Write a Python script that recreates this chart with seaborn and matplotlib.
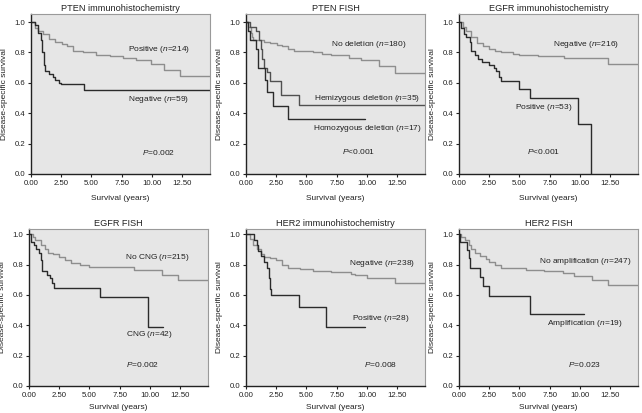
import matplotlib
matplotlib.use("Agg")
import matplotlib.pyplot as plt
import seaborn as sns

# ---- data (step times in years, survival after each step) ----
pten_ihc_pos_t = [0, 0.3, 0.6, 1.0, 1.5, 2.0, 2.6, 3.0, 3.5, 4.3, 5.4, 6.5, 7.6, 8.7, 9.9, 11.0, 12.3, 14.8]
pten_ihc_pos_s = [1.0, 0.96, 0.94, 0.92, 0.89, 0.87, 0.855, 0.84, 0.81, 0.80, 0.785, 0.775, 0.765, 0.747, 0.725, 0.686, 0.648, 0.648]
pten_ihc_neg_t = [0, 0.3, 0.6, 0.85, 0.95, 1.05, 1.15, 1.5, 1.8, 2.0, 2.3, 2.5, 4.4, 14.8]
pten_ihc_neg_s = [1.0, 0.98, 0.93, 0.88, 0.80, 0.72, 0.68, 0.66, 0.64, 0.62, 0.60, 0.59, 0.556, 0.556]

pten_fish_nodel_t = [0, 0.2, 0.4, 0.5, 0.6, 1.5, 2.0, 2.6, 3.0, 3.5, 4.0, 5.5, 6.3, 7.0, 8.5, 9.5, 11.0, 12.3, 14.8]
pten_fish_nodel_s = [1.0, 0.97, 0.93, 0.90, 0.88, 0.87, 0.86, 0.85, 0.84, 0.82, 0.81, 0.80, 0.79, 0.78, 0.765, 0.75, 0.71, 0.667, 0.667]
pten_fish_hemi_t = [0, 0.3, 0.8, 1.1, 1.2, 1.3, 1.5, 1.7, 2.0, 2.9, 4.4, 14.8]
pten_fish_hemi_s = [1.0, 0.97, 0.94, 0.88, 0.82, 0.76, 0.70, 0.67, 0.615, 0.52, 0.457, 0.457]
pten_fish_homo_t = [0, 0.15, 0.35, 0.8, 1.0, 1.6, 1.75, 2.25, 3.5, 9.8]
pten_fish_homo_s = [1.0, 0.94, 0.88, 0.82, 0.70, 0.62, 0.54, 0.45, 0.36, 0.36]

egfr_ihc_neg_t = [0, 0.3, 0.6, 1.0, 1.5, 2.0, 2.5, 3.0, 3.5, 4.5, 5.0, 6.5, 8.7, 12.3, 14.8]
egfr_ihc_neg_s = [1.0, 0.97, 0.94, 0.90, 0.86, 0.84, 0.82, 0.81, 0.80, 0.79, 0.785, 0.775, 0.762, 0.725, 0.725]
egfr_ihc_pos_t = [0, 0.2, 0.4, 0.6, 0.9, 1.0, 1.3, 1.6, 1.9, 2.5, 2.9, 3.1, 3.3, 3.5, 5.0, 5.9, 9.8, 10.9]
egfr_ihc_pos_s = [1.0, 0.96, 0.92, 0.90, 0.87, 0.81, 0.78, 0.76, 0.74, 0.72, 0.70, 0.68, 0.64, 0.61, 0.56, 0.50, 0.33, 0.0]

egfr_fish_nocng_t = [0, 0.3, 0.5, 1.0, 1.3, 1.6, 2.0, 2.5, 3.0, 3.5, 4.2, 5.0, 8.7, 11.0, 12.3, 14.8]
egfr_fish_nocng_s = [1.0, 0.98, 0.96, 0.93, 0.90, 0.88, 0.87, 0.85, 0.83, 0.81, 0.80, 0.785, 0.765, 0.735, 0.70, 0.70]
egfr_fish_cng_t = [0, 0.2, 0.4, 0.6, 0.8, 1.0, 1.1, 1.5, 1.7, 1.9, 2.1, 5.9, 9.8, 11.1]
egfr_fish_cng_s = [1.0, 0.95, 0.93, 0.90, 0.88, 0.83, 0.76, 0.73, 0.71, 0.68, 0.645, 0.585, 0.39, 0.39]

her2_ihc_neg_t = [0, 0.3, 0.6, 0.9, 1.2, 1.5, 2.0, 2.5, 3.0, 3.5, 4.5, 5.5, 7.0, 8.7, 9.0, 10.0, 12.3, 14.8]
her2_ihc_neg_s = [1.0, 0.97, 0.93, 0.90, 0.87, 0.85, 0.845, 0.83, 0.80, 0.78, 0.77, 0.755, 0.75, 0.74, 0.73, 0.715, 0.68, 0.68]
her2_ihc_pos_t = [0, 0.7, 0.9, 1.0, 1.2, 1.5, 1.7, 1.9, 2.0, 2.1, 4.4, 6.6, 9.8]
her2_ihc_pos_s = [1.0, 0.96, 0.93, 0.89, 0.86, 0.82, 0.78, 0.71, 0.64, 0.60, 0.52, 0.39, 0.39]

her2_fish_noamp_t = [0, 0.2, 0.5, 0.8, 1.0, 1.3, 1.7, 2.2, 2.5, 3.0, 3.5, 4.3, 5.5, 7.0, 8.6, 9.5, 11.0, 12.3, 14.8]
her2_fish_noamp_s = [1.0, 0.98, 0.96, 0.93, 0.90, 0.88, 0.86, 0.84, 0.82, 0.80, 0.78, 0.775, 0.765, 0.755, 0.745, 0.725, 0.70, 0.665, 0.665]
her2_fish_amp_t = [0, 0.1, 0.7, 0.8, 0.9, 1.7, 2.0, 2.5, 5.9, 10.3]
her2_fish_amp_s = [1.0, 0.947, 0.895, 0.842, 0.78, 0.72, 0.66, 0.595, 0.476, 0.476]

titles = ["PTEN immunohistochemistry", "PTEN FISH", "EGFR immunohistochemistry",
          "EGFR FISH", "HER2 immunohistochemistry", "HER2 FISH"]
p_labels = ["$P$=0.002", "$P$<0.001", "$P$<0.001", "$P$=0.002", "$P$=0.008", "$P$=0.023"]
x_ticks = [0, 2.5, 5, 7.5, 10, 12.5]
x_ticklabels = ["0.00", "2.50", "5.00", "7.50", "10.00", "12.50"]
y_ticks = [0, 0.2, 0.4, 0.6, 0.8, 1.0]

GRAY = "#8e8e8e"
DARK = "#2b2b2b"
MID = "#505050"

# curves per panel: (times, survival, colour, label, label_x, label_y)
panels = [
    [(pten_ihc_pos_t, pten_ihc_pos_s, GRAY, "Positive ($n$=214)", 8.0, 0.82),
     (pten_ihc_neg_t, pten_ihc_neg_s, DARK, "Negative ($n$=59)", 8.0, 0.49)],
    [(pten_fish_nodel_t, pten_fish_nodel_s, GRAY, "No deletion ($n$=180)", 7.0, 0.855),
     (pten_fish_hemi_t, pten_fish_hemi_s, MID, "Hemizygous deletion ($n$=35)", 5.6, 0.50),
     (pten_fish_homo_t, pten_fish_homo_s, DARK, "Homozygous deletion ($n$=17)", 5.5, 0.30)],
    [(egfr_ihc_neg_t, egfr_ihc_neg_s, GRAY, "Negative ($n$=216)", 7.8, 0.853),
     (egfr_ihc_pos_t, egfr_ihc_pos_s, DARK, "Positive ($n$=53)", 4.6, 0.435)],
    [(egfr_fish_nocng_t, egfr_fish_nocng_s, GRAY, "No CNG ($n$=215)", 7.9, 0.844),
     (egfr_fish_cng_t, egfr_fish_cng_s, DARK, "CNG ($n$=42)", 8.0, 0.337)],
    [(her2_ihc_neg_t, her2_ihc_neg_s, GRAY, "Negative ($n$=238)", 8.5, 0.81),
     (her2_ihc_pos_t, her2_ihc_pos_s, DARK, "Positive ($n$=28)", 8.8, 0.447)],
    [(her2_fish_noamp_t, her2_fish_noamp_s, GRAY, "No amplification ($n$=247)", 6.6, 0.82),
     (her2_fish_amp_t, her2_fish_amp_s, DARK, "Amplification ($n$=19)", 7.3, 0.414)],
]
p_pos = [(9.2, 0.14), (7.9, 0.15), (5.6, 0.147), (8.0, 0.14), (9.75, 0.145), (9.0, 0.143)]

sns.set_theme(style="ticks")
plt.rcParams["font.family"] = ["Liberation Sans", "DejaVu Sans"]
plt.rcParams["mathtext.fontset"] = "custom"
plt.rcParams["mathtext.rm"] = "Liberation Sans"
plt.rcParams["mathtext.it"] = "Liberation Sans:italic"

W, H = 642, 413
fig = plt.figure(figsize=(W / 100, H / 100), dpi=100)
fig.patch.set_facecolor("white")

lefts = [31, 246, 459, 29, 246, 459]
tops = [14, 14, 14, 229, 229, 229]
bottoms = [174, 174, 174, 386, 386, 386]
ytops = [1.053, 1.053, 1.053, 1.035, 1.035, 1.035]
xlabel_pads = [6.0, 6.0, 6.0, 4.0, 4.0, 4.0]
width = 179

for i in range(6):
    ax = fig.add_axes([lefts[i] / W, 1 - bottoms[i] / H, width / W, (bottoms[i] - tops[i]) / H])
    ax.set_facecolor("#e6e6e6")
    for t, s, col, lab, lx, ly in panels[i]:
        sns.lineplot(x=t, y=s, drawstyle="steps-post", color=col, lw=1.0, ax=ax)
        ax.text(lx, ly, lab, fontsize=6.0, va="center", ha="left", color="#222222")
    px, py = p_pos[i]
    ax.text(px, py, p_labels[i], fontsize=6.0, va="center", ha="left", color="#222222")

    ax.set_xlim(0, 14.8)
    ax.set_ylim(0, ytops[i])
    ax.set_xticks(x_ticks)
    ax.set_xticklabels(x_ticklabels)
    ax.set_yticks(y_ticks)
    ax.set_yticklabels([f"{v:.1f}" for v in y_ticks])
    ax.tick_params(labelsize=5.6, length=2.5, width=0.8, pad=1.5, colors="#222222")
    ax.set_title(titles[i], fontsize=6.6, pad=2.5, color="#222222")
    ax.set_xlabel("Survival (years)", fontsize=6.0, labelpad=xlabel_pads[i], color="#222222")
    ax.set_ylabel("Disease-specific survival", fontsize=6.0, labelpad=5, color="#222222")
    for side in ["left", "bottom"]:
        ax.spines[side].set_color("#222222")
        ax.spines[side].set_linewidth(1.0)
    for side in ["top", "right"]:
        ax.spines[side].set_color("#9a9a9a")
        ax.spines[side].set_linewidth(0.8)

fig.savefig("out.png", dpi=100)
